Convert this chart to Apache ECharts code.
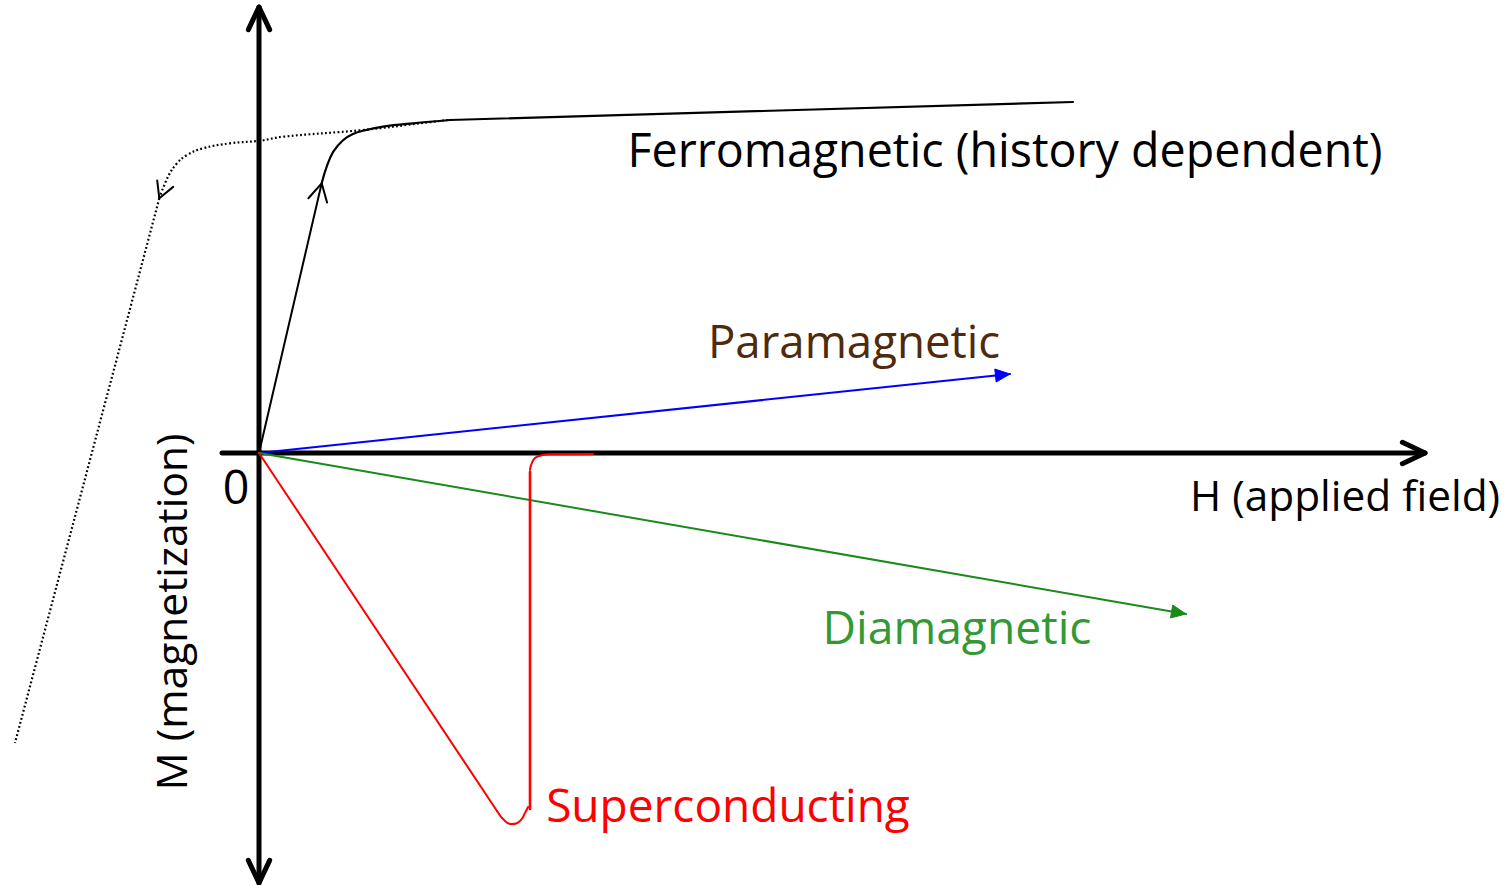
<!DOCTYPE html>
<html>
<head>
<meta charset="utf-8">
<script src="https://cdn.jsdelivr.net/npm/echarts@6/dist/echarts.min.js"></script>
<style>html,body{margin:0;padding:0;background:#fff}#chart{width:1506px;height:885px}</style>
</head>
<body>
<div id="chart"></div>
<script>
// ---- data (arbitrary units: H to the right, M upward, origin at 0) ----
const hAxisLine = [[-37, 0], [1166, 0]];
const mAxisLine = [[0, -430], [0, 446]];

const ferroRise = [[0, 0], [62.7, 269.7]];
const ferroKnee = [[62.7, 269.7], [67.7, 286.3], [74.3, 301.3], [84.3, 313], [94, 319], [104, 322.3], [124, 326.3], [154, 329.7], [191, 333]];
const ferroSat = [[191, 333], [814, 351]];

const ferroReturnKnee = [[189, 333], [164, 330], [104, 323], [24, 316.3], [1, 312.3], [-29, 309.7], [-56, 304.7], [-72, 298], [-82, 289.7], [-91, 276.3], [-99.7, 254.7]];
const ferroReturnFall = [[-99.7, 254.7], [-244, -290]];

const paramagnetic = [[0, 0], [751, 79]];
const diamagnetic = [[0, 0], [927, -161]];

const superFall = [[0, 0], [238, -358]];
const superBottom = [[238, -358], [246, -368], [253, -371], [261, -368], [266, -360], [269, -354]];
const superJump = [[271, -356], [271, -19]];
const superTop = [[271, -17], [272.5, -11], [276, -5], [282, -2.5], [290, -1.3], [334, -1]];

// arrow heads: [tipH, tipM, fromH, fromM]
const axisArrows = [[1166, 0, 1100, 0], [0, 446, 0, 380], [0, -430, 0, -360]];
const ferroArrows = [[62.7, 269.7, 0, 0]];
const dottedArrows = [[-99.7, 254.7, -91, 276.3]];
const paraArrows = [[751, 79, 0, 0]];
const diaArrows = [[927, -161, 0, 0]];

const labelTexts = ['Ferromagnetic (history dependent)', 'Paramagnetic', 'H (applied field)', '0', 'Diamagnetic', 'Superconducting', 'M (magnetization)'];
const labelColors = ['#000000', '#4f2a0c', '#000000', '#000000', '#339933', '#ff0000', '#000000'];

// ---- layout of the labels (pixels) ----
const labelLayout = [
  { x: 1005, y: 149, w: 755, rot: 0 },
  { x: 854, y: 340, w: 292, rot: 0 },
  { x: 1345, y: 494, w: 310, rot: 0 },
  { x: 236, y: 486, w: 0, rot: 0 },
  { x: 957, y: 626, w: 269, rot: 0 },
  { x: 728, y: 804, w: 364, rot: 0 },
  { x: 170, y: 612, w: 357, rot: Math.PI / 2 }
];

// ---- rendering ----
const FONT = '"Open Sans", "Noto Sans", sans-serif';
function fitSize(text, target) {
  const ctx = document.createElement('canvas').getContext('2d');
  ctx.font = '100px ' + FONT;
  return 100 * target / ctx.measureText(text).width;
}
const baseSize = fitSize(labelTexts[0], 755);

function lineSeries(data, color, width, opts) {
  return Object.assign({
    type: 'line', data: data, symbol: 'none', showSymbol: false, silent: true,
    animation: false, clip: false,
    lineStyle: { color: color, width: width, cap: 'round', join: 'round' }
  }, opts || {});
}

function arrowSeries(data, kind, color, len, half, width) {
  return {
    type: 'custom', coordinateSystem: 'cartesian2d', data: data, silent: true,
    animation: false, clip: false,
    encode: { x: [0, 2], y: [1, 3] },
    renderItem: function (params, api) {
      const tip = api.coord([api.value(0), api.value(1)]);
      const from = api.coord([api.value(2), api.value(3)]);
      const dx = from[0] - tip[0], dy = from[1] - tip[1];
      const l = Math.hypot(dx, dy);
      const ux = dx / l, uy = dy / l;
      const c = Math.cos(half), s = Math.sin(half);
      const a1 = [tip[0] + len * (ux * c - uy * s), tip[1] + len * (ux * s + uy * c)];
      const a2 = [tip[0] + len * (ux * c + uy * s), tip[1] + len * (-ux * s + uy * c)];
      if (kind === 'open') {
        return { type: 'polyline', shape: { points: [a1, tip, a2] },
          style: { stroke: color, lineWidth: width, fill: null, lineCap: 'round', lineJoin: 'round' } };
      }
      return { type: 'polygon', shape: { points: [a1, tip, a2] },
        style: { fill: color, stroke: color, lineWidth: 1 } };
    }
  };
}

const dotted = { color: '#000000', width: 2.2, type: [1.8, 2.4] };

const chart = echarts.init(document.getElementById('chart'), null, { renderer: 'svg' });
chart.setOption({
  animation: false,
  backgroundColor: '#ffffff',
  grid: { left: 0, right: 0, top: 0, bottom: 0, containLabel: false },
  xAxis: { type: 'value', min: -259, max: 1247, show: false },
  yAxis: { type: 'value', min: -432, max: 453, show: false },
  series: [
    lineSeries(hAxisLine, '#000000', 5),
    lineSeries(mAxisLine, '#000000', 5),
    arrowSeries(axisArrows, 'open', '#000000', 25, 0.44, 5),
    lineSeries(ferroReturnKnee, '#000000', 2.2, { smooth: 0.4, lineStyle: dotted }),
    lineSeries(ferroReturnFall, '#000000', 2.2, { lineStyle: dotted }),
    arrowSeries(dottedArrows, 'open', '#000000', 18, 0.5, 2),
    lineSeries(ferroRise, '#000000', 2),
    lineSeries(ferroKnee, '#000000', 2.2, { smooth: 0.4 }),
    lineSeries(ferroSat, '#000000', 2.2),
    arrowSeries(ferroArrows, 'open', '#000000', 20, 0.5, 2),
    lineSeries(paramagnetic, '#0000ff', 2),
    arrowSeries(paraArrows, 'filled', '#0000ff', 16, 0.42, 1),
    lineSeries(diamagnetic, '#1a8a1a', 2),
    arrowSeries(diaArrows, 'filled', '#1a8a1a', 16, 0.42, 1),
    lineSeries(superFall, '#ff0000', 2),
    lineSeries(superBottom, '#ff0000', 2, { smooth: 0.5 }),
    lineSeries(superJump, '#ff0000', 2.6),
    lineSeries(superTop, '#ff0000', 2, { smooth: 0.5 })
  ],
  graphic: labelTexts.map(function (text, i) {
    const L = labelLayout[i];
    const size = L.w ? fitSize(text, L.w) : baseSize;
    return {
      type: 'text', x: L.x, y: L.y, rotation: L.rot, silent: true,
      style: {
        text: text, fill: labelColors[i], font: size.toFixed(1) + 'px ' + FONT,
        textAlign: 'center', textVerticalAlign: 'middle'
      }
    };
  })
});
</script>
</body>
</html>
